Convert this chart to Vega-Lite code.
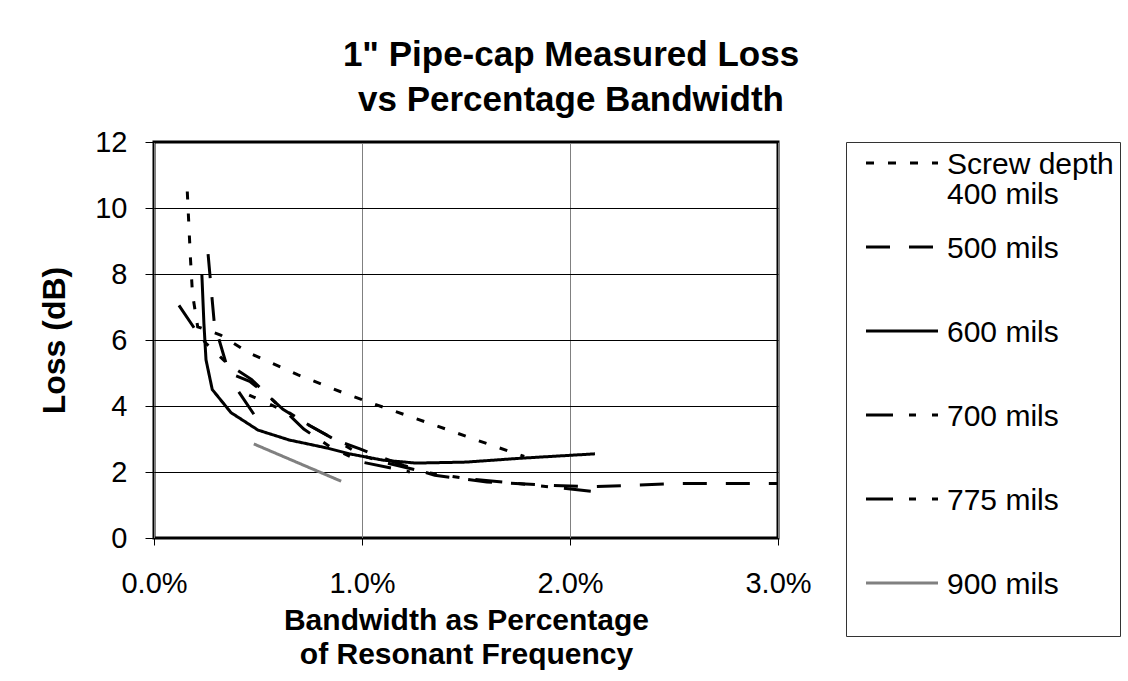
{
  "$schema": "https://vega.github.io/schema/vega-lite/v6.json",
  "autosize": {"type": "none"},
  "width": 624,
  "height": 396,
  "padding": {"left": 154, "top": 142, "right": 350, "bottom": 143},
  "background": "white",
  "title": {
    "text": ["1\" Pipe-cap Measured Loss", "vs Percentage Bandwidth"],
    "font": "Liberation Sans",
    "fontSize": 35,
    "fontWeight": "bold",
    "color": "#000",
    "lineHeight": 45,
    "offset": 10,
    "anchor": "middle",
    "dx": 105
  },
  "config": {
    "font": "Liberation Sans",
    "view": {"stroke": "#000", "strokeWidth": 3},
    "axis": {"labelColor": "#000", "titleColor": "#000", "tickColor": "#000", "domain": false, "labelFlush": false}
  },
  "data": {
    "values": [
      {"series": "400 mils", "i": 1, "x": 0.16, "y": 10.5},
      {"series": "400 mils", "i": 2, "x": 0.175, "y": 8.5},
      {"series": "400 mils", "i": 3, "x": 0.185, "y": 7.4},
      {"series": "400 mils", "i": 4, "x": 0.21, "y": 6.4},
      {"series": "400 mils", "i": 5, "x": 0.32, "y": 6.15},
      {"series": "400 mils", "i": 6, "x": 0.46, "y": 5.6},
      {"series": "400 mils", "i": 7, "x": 0.69, "y": 4.95},
      {"series": "400 mils", "i": 8, "x": 0.91, "y": 4.4},
      {"series": "400 mils", "i": 9, "x": 1.13, "y": 3.9},
      {"series": "400 mils", "i": 10, "x": 1.35, "y": 3.42},
      {"series": "400 mils", "i": 11, "x": 1.55, "y": 2.97},
      {"series": "400 mils", "i": 12, "x": 1.78, "y": 2.47},

      {"series": "500 mils", "i": 1, "x": 0.26, "y": 8.6},
      {"series": "500 mils", "i": 2, "x": 0.29, "y": 6.5},
      {"series": "500 mils", "i": 3, "x": 0.36, "y": 5.0},
      {"series": "500 mils", "i": 4, "x": 0.46, "y": 4.75},
      {"series": "500 mils", "i": 5, "x": 0.55, "y": 4.3},
      {"series": "500 mils", "i": 6, "x": 0.62, "y": 3.9},
      {"series": "500 mils", "i": 7, "x": 0.75, "y": 3.4},
      {"series": "500 mils", "i": 8, "x": 0.88, "y": 2.95},
      {"series": "500 mils", "i": 9, "x": 0.99, "y": 2.7},
      {"series": "500 mils", "i": 10, "x": 1.09, "y": 2.45},
      {"series": "500 mils", "i": 11, "x": 1.2, "y": 2.2},
      {"series": "500 mils", "i": 12, "x": 1.35, "y": 1.9},
      {"series": "500 mils", "i": 13, "x": 1.6, "y": 1.7},
      {"series": "500 mils", "i": 14, "x": 1.9, "y": 1.6},
      {"series": "500 mils", "i": 15, "x": 2.1, "y": 1.55},
      {"series": "500 mils", "i": 16, "x": 2.5, "y": 1.65},
      {"series": "500 mils", "i": 17, "x": 3.0, "y": 1.65},

      {"series": "600 mils", "i": 1, "x": 0.23, "y": 8.0},
      {"series": "600 mils", "i": 2, "x": 0.24, "y": 6.5},
      {"series": "600 mils", "i": 3, "x": 0.25, "y": 5.4},
      {"series": "600 mils", "i": 4, "x": 0.28, "y": 4.5},
      {"series": "600 mils", "i": 5, "x": 0.37, "y": 3.8},
      {"series": "600 mils", "i": 6, "x": 0.5, "y": 3.27},
      {"series": "600 mils", "i": 7, "x": 0.65, "y": 2.97},
      {"series": "600 mils", "i": 8, "x": 0.83, "y": 2.73},
      {"series": "600 mils", "i": 9, "x": 0.94, "y": 2.55},
      {"series": "600 mils", "i": 10, "x": 1.1, "y": 2.36},
      {"series": "600 mils", "i": 11, "x": 1.26, "y": 2.27},
      {"series": "600 mils", "i": 12, "x": 1.5, "y": 2.3},
      {"series": "600 mils", "i": 13, "x": 1.77, "y": 2.42},
      {"series": "600 mils", "i": 14, "x": 2.12, "y": 2.55},

      {"series": "700 mils", "i": 1, "x": 0.12, "y": 7.05},
      {"series": "700 mils", "i": 2, "x": 0.2, "y": 6.3},
      {"series": "700 mils", "i": 3, "x": 0.25, "y": 5.9},
      {"series": "700 mils", "i": 4, "x": 0.35, "y": 5.3},
      {"series": "700 mils", "i": 5, "x": 0.47, "y": 4.8},
      {"series": "700 mils", "i": 6, "x": 0.6, "y": 4.0},
      {"series": "700 mils", "i": 7, "x": 0.75, "y": 3.4},
      {"series": "700 mils", "i": 8, "x": 0.85, "y": 3.05},
      {"series": "700 mils", "i": 9, "x": 1.0, "y": 2.5},
      {"series": "700 mils", "i": 10, "x": 1.1, "y": 2.3},
      {"series": "700 mils", "i": 11, "x": 1.3, "y": 2.0},
      {"series": "700 mils", "i": 12, "x": 1.5, "y": 1.8},
      {"series": "700 mils", "i": 13, "x": 1.75, "y": 1.65},
      {"series": "700 mils", "i": 14, "x": 2.13, "y": 1.4},

      {"series": "775 mils", "i": 1, "x": 0.48, "y": 3.75},
      {"series": "775 mils", "i": 2, "x": 0.4, "y": 4.5},
      {"series": "775 mils", "i": 3, "x": 0.52, "y": 4.15},
      {"series": "775 mils", "i": 4, "x": 0.63, "y": 3.85},
      {"series": "775 mils", "i": 5, "x": 0.72, "y": 3.3},
      {"series": "775 mils", "i": 6, "x": 0.85, "y": 2.75},
      {"series": "775 mils", "i": 7, "x": 1.0, "y": 2.3},
      {"series": "775 mils", "i": 8, "x": 1.14, "y": 2.12},
      {"series": "775 mils", "i": 9, "x": 1.23, "y": 2.0},

      {"series": "900 mils", "i": 1, "x": 0.48, "y": 2.85},
      {"series": "900 mils", "i": 2, "x": 0.9, "y": 1.72}
    ]
  },
  "mark": {"type": "line", "strokeWidth": 3, "clip": true, "strokeCap": "butt"},
  "encoding": {
    "x": {
      "field": "x", "type": "quantitative",
      "scale": {"domain": [0, 3], "nice": false},
      "axis": {
        "values": [0, 1, 2, 3],
        "labelExpr": "format(datum.value, '.1f') + '%'",
        "labelFontSize": 29,
        "labelPadding": 24,
        "tickSize": 7,
        "gridColor": "#808080",
        "gridWidth": 1,
        "title": ["Bandwidth as Percentage", "of Resonant Frequency"],
        "titleFontSize": 30,
        "titleFontWeight": "bold",
        "titleLineHeight": 34,
        "titlePadding": 7
      }
    },
    "y": {
      "field": "y", "type": "quantitative",
      "scale": {"domain": [0, 12], "nice": false},
      "axis": {
        "values": [0, 2, 4, 6, 8, 10, 12],
        "labelFontSize": 29,
        "labelPadding": 18,
        "tickSize": 9,
        "gridColor": "#000",
        "gridWidth": 1,
        "title": "Loss (dB)",
        "titleFontSize": 32,
        "titleFontWeight": "bold",
        "titlePadding": 23
      }
    },
    "order": {"field": "i", "type": "quantitative"},
    "color": {
      "field": "series", "type": "nominal",
      "scale": {
        "domain": ["400 mils", "500 mils", "600 mils", "700 mils", "775 mils", "900 mils"],
        "range": ["#000000", "#000000", "#000000", "#000000", "#000000", "#808080"]
      },
      "legend": {
        "title": null,
        "orient": "none",
        "legendX": 692,
        "legendY": 0,
        "symbolType": "M-3,0H3",
        "symbolSize": 576,
        "symbolStrokeWidth": 3,
        "symbolOffset": 35,
        "labelFontSize": 30,
        "labelLimit": 300,
        "labelOffset": 30,
        "labelColor": "#000",
        "labelBaseline": "top",
        "labelExpr": "datum.label == '400 mils' ? ['Screw depth', '400 mils'] : datum.label == '900 mils' ? ['900 mils', ' '] : datum.label",
        "gridAlign": "all",
        "rowPadding": 22,
        "padding": 6,
        "strokeColor": "#333333",
        "fillColor": "#ffffff",
        "encoding": {"labels": {"dy": {"value": -13}, "lineHeight": {"value": 30}}}
      }
    },
    "strokeDash": {
      "field": "series", "type": "nominal",
      "scale": {
        "domain": ["400 mils", "500 mils", "600 mils", "700 mils", "775 mils", "900 mils"],
        "range": [[8, 14], [24, 19], [1, 0], [27, 16, 7, 16, 7, 16], [27, 16, 7, 16, 7, 16], [1, 0]]
      },
      "legend": null
    }
  }
}
